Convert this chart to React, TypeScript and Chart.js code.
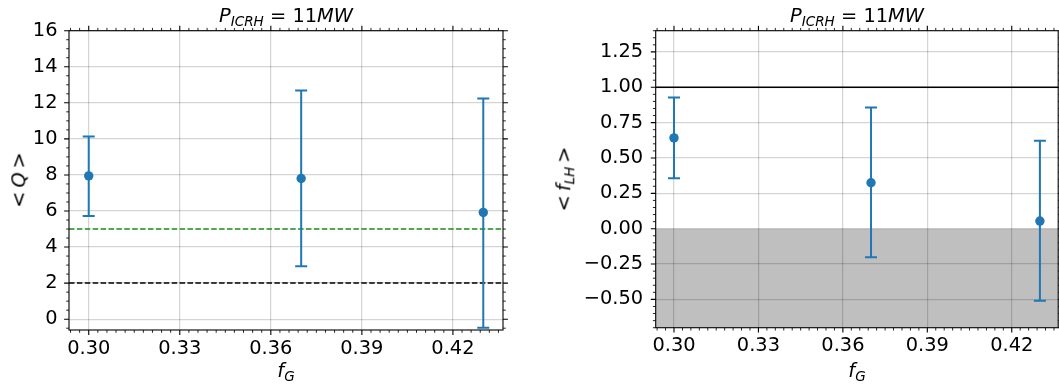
import React, { useEffect, useRef } from "react";
import { Chart, registerables } from "chart.js";

Chart.register(...registerables);

// Greenwald fractions of the three scenarios
const F_G = [0.3, 0.37, 0.43];

// Fusion gain <Q> with its spread
const Q_MEAN = [7.95, 7.8, 5.92];
const Q_LOW = [5.72, 2.94, -0.48];
const Q_HIGH = [10.13, 12.68, 12.24];

// L-H threshold fraction <f_LH> with its spread
const FLH_MEAN = [0.642, 0.325, 0.054];
const FLH_LOW = [0.356, -0.202, -0.51];
const FLH_HIGH = [0.927, 0.857, 0.621];

// Reference levels
const Q_LEVEL_GREEN = 5;
const Q_LEVEL_BLACK = 2;
const FLH_LIMIT = 1.0;
const FLH_SHADE_TOP = 0;

// Axis ranges and ticks
const X_RANGE = [0.2935, 0.4365];
const Q_RANGE = [-0.6, 16];
const FLH_RANGE = [-0.7, 1.4];
const X_TICKS = [0.3, 0.33, 0.36, 0.39, 0.42];
const Q_TICKS = [0, 2, 4, 6, 8, 10, 12, 14, 16];
const FLH_TICKS = [-0.5, -0.25, 0, 0.25, 0.5, 0.75, 1.0, 1.25];
const X_MINOR_STEP = 0.003;
const Q_MINOR_STEP = 0.5;
const FLH_MINOR_STEP = 0.05;

const BLUE = "#1f77b4";
const FONT = '"DejaVu Sans", "Liberation Sans", sans-serif';
const FONT_PX = 19.4;
const GRID = "rgba(0,0,0,0.17)";

const fmt = (v: number, digits: number) =>
  v.toFixed(digits).replace("-", "\u2212");

// Outward ticks on all four sides plus the box around the plot area
function makeFrame(xMajor: number[], xMinor: number, yMajor: number[], yMinor: number) {
  const minorValues = (min: number, max: number, step: number, major: number[]) => {
    const out: number[] = [];
    for (let k = Math.ceil(min / step - 1e-9); k * step <= max + 1e-9; k++) {
      const v = k * step;
      if (!major.some((m) => Math.abs(m - v) < step / 10)) out.push(v);
    }
    return out;
  };
  return {
    id: "frame",
    afterDraw(chart: any) {
      const { ctx, chartArea: a, scales } = chart;
      const xs = scales.x;
      const ys = scales.y;
      ctx.save();
      ctx.strokeStyle = "#000";
      const xTicks = (vals: number[], len: number, w: number) => {
        ctx.lineWidth = w;
        ctx.beginPath();
        vals.forEach((v) => {
          const p = xs.getPixelForValue(v);
          ctx.moveTo(p, a.bottom);
          ctx.lineTo(p, a.bottom + len);
          ctx.moveTo(p, a.top);
          ctx.lineTo(p, a.top - len);
        });
        ctx.stroke();
      };
      const yTicks = (vals: number[], len: number, w: number) => {
        ctx.lineWidth = w;
        ctx.beginPath();
        vals.forEach((v) => {
          const p = ys.getPixelForValue(v);
          ctx.moveTo(a.left, p);
          ctx.lineTo(a.left - len, p);
          ctx.moveTo(a.right, p);
          ctx.lineTo(a.right + len, p);
        });
        ctx.stroke();
      };
      xTicks(xMajor, 4.9, 1.1);
      xTicks(minorValues(xs.min, xs.max, xMinor, xMajor), 2.8, 0.85);
      yTicks(yMajor, 4.9, 1.1);
      yTicks(minorValues(ys.min, ys.max, yMinor, yMajor), 2.8, 0.85);
      ctx.lineWidth = 1.1;
      ctx.strokeRect(a.left, a.top, a.right - a.left, a.bottom - a.top);
      ctx.restore();
    },
  };
}

function errorBars(xs: number[], lo: number[], hi: number[]) {
  return xs.map((x, i) => ({
    data: [
      { x, y: lo[i] },
      { x, y: hi[i] },
    ],
    showLine: true,
    borderColor: BLUE,
    borderWidth: 2,
    pointStyle: "line",
    pointRadius: 6,
    pointHoverRadius: 6,
    pointBorderColor: BLUE,
    pointBorderWidth: 2,
  }));
}

function meanMarkers(xs: number[], ys: number[]) {
  return {
    data: xs.map((x, i) => ({ x, y: ys[i] })),
    showLine: false,
    pointStyle: "circle",
    pointRadius: 4.7,
    pointHoverRadius: 4.7,
    pointBackgroundColor: BLUE,
    pointBorderColor: BLUE,
    pointBorderWidth: 0,
  };
}

function hLine(y: number, color: string, dash: number[]) {
  return {
    data: [
      { x: X_RANGE[0], y },
      { x: X_RANGE[1], y },
    ],
    showLine: true,
    borderColor: color,
    borderWidth: 1.5,
    borderDash: dash,
    pointRadius: 0,
    pointHoverRadius: 0,
  };
}

function makeOptions(p: {
  yRange: number[];
  yTicks: number[];
  yDigits: number;
  yWidth: number;
  xHeight: number;
  padTop: number;
  padRight: number;
  yPad: number;
  xPad: number;
}) {
  const tickFont = { family: FONT, size: FONT_PX };
  return {
    animation: false,
    responsive: false,
    maintainAspectRatio: false,
    events: [],
    layout: {
      autoPadding: false,
      padding: { top: p.padTop, right: p.padRight, left: 0, bottom: 0 },
    },
    plugins: { legend: { display: false }, tooltip: { enabled: false }, title: { display: false } },
    scales: {
      x: {
        type: "linear",
        min: X_RANGE[0],
        max: X_RANGE[1],
        afterBuildTicks: (s: any) => {
          s.ticks = X_TICKS.map((value) => ({ value }));
        },
        afterFit: (s: any) => {
          s.height = p.xHeight;
          s.paddingLeft = 0;
          s.paddingRight = 0;
        },
        grid: { color: GRID, lineWidth: 1.25, drawTicks: false },
        border: { display: false },
        ticks: {
          font: tickFont,
          color: "#000",
          padding: p.xPad,
          autoSkip: false,
          maxRotation: 0,
          callback: (v: number) => fmt(v, 2),
        },
      },
      y: {
        type: "linear",
        min: p.yRange[0],
        max: p.yRange[1],
        afterBuildTicks: (s: any) => {
          s.ticks = p.yTicks.map((value) => ({ value }));
        },
        afterFit: (s: any) => {
          s.width = p.yWidth;
          s.paddingTop = 0;
          s.paddingBottom = 0;
        },
        grid: { color: GRID, lineWidth: 1.25, drawTicks: false },
        border: { display: false },
        ticks: {
          font: tickFont,
          color: "#000",
          padding: p.yPad,
          autoSkip: false,
          callback: (v: number) => fmt(v, p.yDigits),
        },
      },
    },
  };
}

const sub: React.CSSProperties = {
  fontSize: "0.7em",
  fontStyle: "italic",
  position: "relative",
  top: "0.32em",
};

function Title({ cx }: { cx: number }) {
  return (
    <div
      style={{
        position: "absolute",
        left: cx - 200,
        width: 400,
        top: 5.5,
        textAlign: "center",
        lineHeight: 1,
        whiteSpace: "nowrap",
      }}
    >
      <i>P</i>
      <span style={sub}>ICRH</span> = 11<i>MW</i>
    </div>
  );
}

function XLabel({ cx }: { cx: number }) {
  return (
    <div
      style={{
        position: "absolute",
        left: cx,
        top: 371,
        transform: "translate(-50%, -50%)",
        lineHeight: 1,
        whiteSpace: "nowrap",
      }}
    >
      <i>f</i>
      <span style={sub}>G</span>
    </div>
  );
}

function YLabel({ cx, cy, children }: { cx: number; cy: number; children: React.ReactNode }) {
  return (
    <div
      style={{
        position: "absolute",
        left: cx,
        top: cy,
        transform: "translate(-50%, -50%) rotate(-90deg)",
        lineHeight: 1,
        whiteSpace: "nowrap",
      }}
    >
      {children}
    </div>
  );
}

export default function App() {
  const leftRef = useRef<HTMLCanvasElement>(null);
  const rightRef = useRef<HTMLCanvasElement>(null);

  useEffect(() => {
    const qChart = new Chart(leftRef.current as HTMLCanvasElement, {
      type: "line",
      data: {
        datasets: [
          meanMarkers(F_G, Q_MEAN),
          ...errorBars(F_G, Q_LOW, Q_HIGH),
          hLine(Q_LEVEL_GREEN, "#1a8a1a", [5.5, 2.4]),
          hLine(Q_LEVEL_BLACK, "#000000", [5.5, 2.4]),
        ] as any,
      },
      options: makeOptions({
        yRange: Q_RANGE,
        yTicks: Q_TICKS,
        yDigits: 0,
        yWidth: 69,
        xHeight: 55,
        padTop: 30.7,
        padRight: 37,
        yPad: 11.5,
        xPad: 7,
      }) as any,
      plugins: [makeFrame(X_TICKS, X_MINOR_STEP, Q_TICKS, Q_MINOR_STEP)],
    });

    const fChart = new Chart(rightRef.current as HTMLCanvasElement, {
      type: "line",
      data: {
        datasets: [
          meanMarkers(F_G, FLH_MEAN),
          ...errorBars(F_G, FLH_LOW, FLH_HIGH),
          hLine(FLH_LIMIT, "#000000", []),
          {
            ...hLine(FLH_SHADE_TOP, "rgba(0,0,0,0)", []),
            fill: "start",
            backgroundColor: "rgba(0,0,0,0.25)",
          },
        ] as any,
      },
      options: makeOptions({
        yRange: FLH_RANGE,
        yTicks: FLH_TICKS,
        yDigits: 2,
        yWidth: 115.7,
        xHeight: 57.3,
        padTop: 30.7,
        padRight: 0.8,
        yPad: 12.5,
        xPad: 7,
      }) as any,
      plugins: [makeFrame(X_TICKS, X_MINOR_STEP, FLH_TICKS, FLH_MINOR_STEP)],
    });

    return () => {
      qChart.destroy();
      fChart.destroy();
    };
  }, []);

  return (
    <div
      style={{
        position: "fixed",
        left: 0,
        top: 0,
        width: 1059,
        height: 385,
        background: "#fff",
        color: "#000",
        fontFamily: FONT,
        fontSize: FONT_PX,
        overflow: "hidden",
      }}
    >
      <canvas ref={leftRef} width={540} height={385} style={{ position: "absolute", left: 0, top: 0 }} />
      <canvas ref={rightRef} width={519} height={385} style={{ position: "absolute", left: 540, top: 0 }} />
      <Title cx={286} />
      <Title cx={857} />
      <XLabel cx={286} />
      <XLabel cx={857} />
      <YLabel cx={18.5} cy={180}>
        {"<\u2009"}
        <i>Q</i>
        {"\u2009>"}
      </YLabel>
      <YLabel cx={564} cy={179}>
        {"<\u2009"}
        <i>f</i>
        <span style={sub}>LH</span>
        {"\u2009>"}
      </YLabel>
    </div>
  );
}
